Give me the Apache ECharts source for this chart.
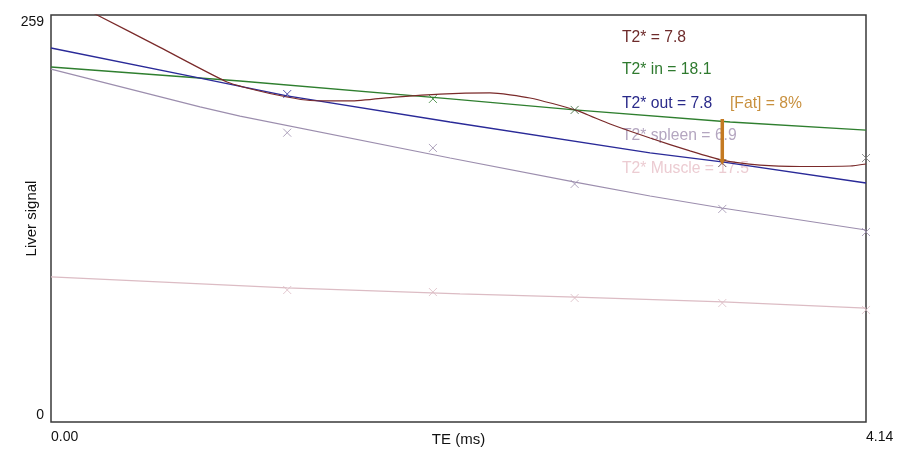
<!DOCTYPE html>
<html>
<head>
<meta charset="utf-8">
<script src="https://cdn.jsdelivr.net/npm/echarts@6/dist/echarts.min.js"></script>
<style>html,body{margin:0;padding:0;background:#fff}#c{width:908px;height:456px}</style>
</head>
<body>
<div id="c"></div>
<script>
// Echo times of measured points (ms)
const teMarkers = [1.2, 1.94, 2.66, 3.41, 4.14];
const liverSignal = [208.7, 205.6, 198.6, 164.8, 168.0];
const spleenSignal = [184.1, 174.4, 151.5, 135.6, 120.9];
const muscleSignal = [84.0, 82.7, 78.9, 75.7, 71.3];
const liverMarkerColors = ['#2e2e9a', '#2f7f2f', '#2f5f2f', '#4a2a3a', '#777777'];

// Fitted curves
const fitT = [0, 0.234, 0.554, 0.894, 1.036, 1.199, 1.316, 1.519, 1.747, 1.976, 2.23, 2.433, 2.662, 2.84, 3.043, 3.246, 3.408, 3.602, 3.805, 4.059, 4.14];
const fitValues = [273.6, 259, 238.4, 216.4, 211.3, 206.8, 204.6, 204.3, 206.8, 208.7, 209.4, 206.2, 198.6, 189.6, 180.7, 172.5, 166.7, 163.5, 162.6, 162.9, 164.2];
const inT = [0, 0.96, 2.03, 2.66, 3.45, 4.14];
const inValues = [225.9, 217.0, 205.6, 198.6, 190.9, 185.8];
const outT = [0, 0.757, 1.199, 2.027, 3.043, 3.408, 4.14];
const outValues = [238.0, 218.9, 207.5, 190.9, 171.2, 165.5, 152.1];
const spleenT = [0, 0.757, 0.96, 2.027, 2.662, 3.043, 3.408, 4.14];
const spleenFit = [224.6, 200.5, 194.7, 168.0, 152.7, 143.8, 136.2, 122.2];
const muscleT = [0, 1.199, 2.078, 2.667, 3.413, 4.14];
const muscleFit = [92.3, 85.3, 81.5, 79.5, 76.4, 72.5];

// Fat fraction arrow
const fatT = 3.41;
const fatTop = 192.8;
const fatBottom = 165.5;

// Axis ticks
const xTicks = [0, 4.14];
const yTicks = [0, 259];

// Annotation texts
const labels = ['T2* = 7.8', 'T2* in = 18.1', 'T2* out = 7.8', 'T2* spleen = 6.9', 'T2* Muscle = 17.5'];
const fatLabel = '[Fat] = 8%';

const C = {
  fit: '#7a2a2a', inp: '#2f7f2f', out: '#2a2a98', spleen: '#9c8eae', muscle: '#dcbcc4', fat: '#c47a22'
};
const labelColors = ['#6e2b2b', '#2f7a2f', '#2a2a8a', '#b4a6c0', '#ecccd2'];
const FONT = 'Arial, "Liberation Sans", sans-serif';

const zip = (a, b) => a.map((v, i) => [v, b[i]]);
const cross = 'path://M0,0L10,10M10,0L0,10';

function lineSeries(t, v, color, w, smooth) {
  return {
    type: 'line', data: zip(t, v), showSymbol: false, symbol: 'none',
    smooth: smooth, clip: true,
    lineStyle: { color: color, width: w }, z: 3, silent: true
  };
}
function markerSeries(t, v, colors) {
  return {
    type: 'scatter', symbol: cross, symbolSize: 8, z: 4, silent: true,
    data: t.map((x, i) => ({
      value: [x, v[i]],
      itemStyle: { color: 'transparent', borderColor: Array.isArray(colors) ? colors[i] : colors, borderWidth: 1 }
    }))
  };
}

const chart = echarts.init(document.getElementById('c'), null, { renderer: 'canvas' });
const graphics = labels.map((s, i) => ({
  type: 'text', x: 622, y: [38, 70, 104, 136, 169][i], z: 0,
  style: { text: s, fill: labelColors[i], font: '15.7px ' + FONT, verticalAlign: 'middle' }
}));
graphics.push({
  type: 'text', x: 730, y: 104, z: 0,
  style: { text: fatLabel, fill: '#c8903e', font: '15.7px ' + FONT, verticalAlign: 'middle' }
});

chart.setOption({
  backgroundColor: '#ffffff',
  animation: false,
  textStyle: { fontFamily: FONT },
  grid: { left: 51, top: 15, width: 815, height: 407, outerBoundsMode: 'none', containLabel: false,
    show: true, borderColor: '#3a3a3a', borderWidth: 1.5, backgroundColor: '#fff' },
  xAxis: {
    type: 'value', min: xTicks[0], max: xTicks[1], interval: xTicks[1] - xTicks[0],
    name: 'TE (ms)', nameLocation: 'middle', nameGap: 10, nameMoveOverlap: false,
    nameTextStyle: { color: '#111', fontSize: 15, fontFamily: FONT },
    axisLine: { show: false }, axisTick: { show: false }, splitLine: { show: false },
    axisLabel: { color: '#111', fontSize: 14, fontFamily: FONT, align: 'left', margin: 8,
      formatter: v => v.toFixed(2) }
  },
  yAxis: {
    type: 'value', min: yTicks[0], max: yTicks[1], interval: yTicks[1] - yTicks[0],
    name: 'Liver signal', nameLocation: 'middle', nameGap: 12, nameRotate: 90, nameMoveOverlap: false,
    nameTextStyle: { color: '#111', fontSize: 15, fontFamily: FONT },
    axisLine: { show: false }, axisTick: { show: false }, splitLine: { show: false },
    axisLabel: { color: '#111', fontSize: 14, fontFamily: FONT, margin: 7,
      verticalAlignMinLabel: 'bottom', verticalAlignMaxLabel: 'top' }
  },
  graphic: graphics,
  series: [
    lineSeries(muscleT, muscleFit, C.muscle, 1.2, false),
    lineSeries(spleenT, spleenFit, C.spleen, 1.2, false),
    lineSeries(inT, inValues, C.inp, 1.3, false),
    lineSeries(outT, outValues, C.out, 1.3, false),
    lineSeries(fitT, fitValues, C.fit, 1.2, 0.2),
    markerSeries(teMarkers, muscleSignal, C.muscle),
    markerSeries(teMarkers, spleenSignal, C.spleen),
    markerSeries(teMarkers, liverSignal, liverMarkerColors),
    {
      type: 'line', silent: true, z: 5, smooth: false,
      lineStyle: { color: C.fat, width: 3.5 },
      itemStyle: { color: C.fat },
      data: [
        { value: [fatT, fatTop], symbol: 'none' },
        { value: [fatT, fatBottom], symbol: 'triangle', symbolSize: [6, 6], symbolRotate: 180 }
      ]
    }
  ]
});
</script>
</body>
</html>
